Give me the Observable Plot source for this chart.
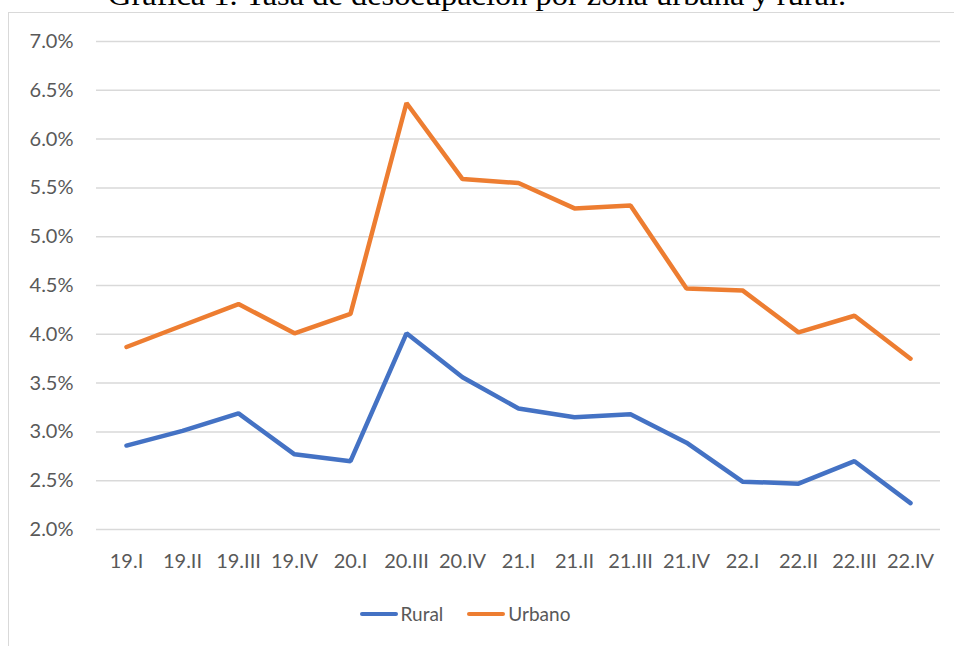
<!DOCTYPE html>
<html>
<head>
<meta charset="utf-8">
<script src="https://cdn.jsdelivr.net/npm/d3@7"></script>
<script src="https://cdn.jsdelivr.net/npm/@observablehq/plot@0.6"></script>
<style>
  html, body { margin: 0; padding: 0; background: #fff; overflow: hidden; }
  #wrap { position: relative; width: 954px; height: 646px; overflow: hidden; }
  #frame { position: absolute; left: 8px; top: 12px; width: 960px; height: 700px; border: 1.5px solid #d9d9d9; box-sizing: border-box; }
  #title { position: absolute; left: 0; width: 954px; top: -19px; text-align: center; font-family: "Liberation Serif", serif; font-size: 29px; line-height: 1; color: #000; white-space: nowrap; }
  #title span { display: inline-block; transform-origin: center; }
  #chart { position: absolute; left: 0; top: 0; }
  #legend { position: absolute; left: 0; width: 954px; top: 597px; text-align: center; font-family: Lato, "Open Sans", sans-serif; font-size: 19px; color: #595959; }
  .item { display: inline-flex; align-items: center; margin: 0 24px 0 0; }
  .sw { display: inline-block; width: 38px; height: 4.5px; border-radius: 2px; margin-right: 3px; }
</style>
</head>
<body>
<div id="wrap">
  <div id="frame"></div>
  <div id="title"><span id="titletext">Gráfica 1. Tasa de desocupación por zona urbana y rural.</span></div>
  <div id="chart"></div>
  <div id="legend"></div>
</div>
<script>
const quarters = ["19.I","19.II","19.III","19.IV","20.I","20.III","20.IV","21.I","21.II","21.III","21.IV","22.I","22.II","22.III","22.IV"];
const rural  = [2.86, 3.01, 3.19, 2.77, 2.70, 4.01, 3.56, 3.24, 3.15, 3.18, 2.89, 2.49, 2.47, 2.70, 2.27];
const urbano = [3.87, 4.09, 4.31, 4.01, 4.21, 6.37, 5.59, 5.55, 5.29, 5.32, 4.47, 4.45, 4.02, 4.19, 3.75];
const yTicks = [2.0, 2.5, 3.0, 3.5, 4.0, 4.5, 5.0, 5.5, 6.0, 6.5, 7.0];
const seriesNames = ["Rural", "Urbano"];
const seriesColors = ["#4472C4", "#ED7D31"];

const data = [];
quarters.forEach((q, i) => {
  data.push({q, serie: "Rural", v: rural[i]});
  data.push({q, serie: "Urbano", v: urbano[i]});
});

const chart = Plot.plot({
  width: 954,
  height: 580,
  marginTop: 41,
  marginBottom: 51,
  marginLeft: 96,
  marginRight: 14,
  style: { fontFamily: "Lato, 'Open Sans', sans-serif", color: "#595959", background: "transparent" },
  x: { type: "point", domain: quarters, padding: 0.5 },
  y: { domain: [2, 7] },
  color: { domain: seriesNames, range: seriesColors },
  marks: [
    Plot.gridY(yTicks, { stroke: "#d9d9d9", strokeOpacity: 1, strokeWidth: 1.5 }),
    Plot.axisY(yTicks, { tickSize: 0, tickPadding: 23, fontSize: 20, tickFormat: d => d.toFixed(1) + "%", label: null, fill: "#595959" }),
    Plot.axisX({ tickSize: 0, tickPadding: 24, fontSize: 20, label: null, fill: "#595959" }),
    Plot.line(data, { x: "q", y: "v", z: "serie", stroke: "serie", strokeWidth: 4.5, strokeLinecap: "round", strokeLinejoin: "miter" })
  ]
});
document.getElementById("chart").appendChild(chart);

// stretch title to the reference width (~738px)
const tt = document.getElementById("titletext");
const w = tt.getBoundingClientRect().width;
if (w > 0) tt.style.transform = `scaleX(${738 / w})`;

const legend = document.getElementById("legend");
seriesNames.forEach((name, i) => {
  const item = document.createElement("span");
  item.className = "item";
  const sw = document.createElement("span");
  sw.className = "sw";
  sw.style.background = seriesColors[i];
  item.appendChild(sw);
  item.appendChild(document.createTextNode(name));
  legend.appendChild(item);
});
</script>
</body>
</html>
